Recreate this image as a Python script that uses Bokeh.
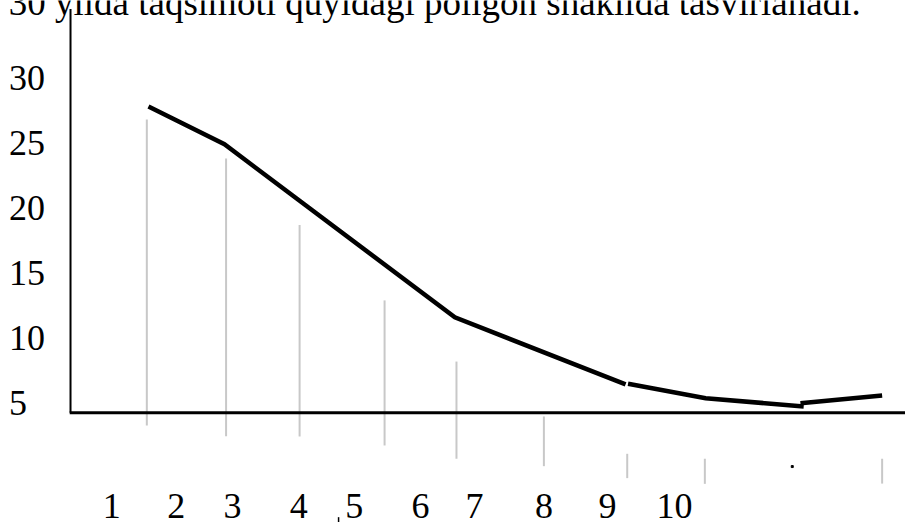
from bokeh.plotting import figure
from bokeh.models import Range1d
from bokeh.core.properties import value
from bokeh.embed import file_html
from bokeh.resources import INLINE

NaN = float("nan")

# Frequency polygon (drawn in three pieces as in the scan)
poly_x = [1.02, 1.95, 4.77, 6.86, NaN, 6.89, 7.84, 9.04, NaN, 9.00, 10.00]
poly_y = [27.9, 25.0, 11.7, 6.54, NaN, 6.59, 5.48, 4.85, NaN, 5.10, 5.69]

# Light grey vertical strokes
bar_x = [1.00, 1.97, 2.87, 3.91, 4.79, 5.86, 6.88, 7.83, 10.00]
bar_top = [26.9, 23.9, 18.8, 13.0, 8.3, 4.08, 1.21, 0.83, 0.83]
bar_bottom = [3.39, 2.56, 2.54, 1.85, 0.83, 0.26, -0.66, -1.10, -1.08]

# stray dot
dot_x = [8.90]
dot_y = [0.23]

# y tick labels
y_ticks = [5, 10, 15, 20, 25, 30]

# x labels and their positions
x_labels = ["1", "2", "3", "4", "5", "6", "7", "8", "9", "10"]
x_label_pos = [0.57, 1.36, 2.05, 2.86, 3.54, 4.35, 5.01, 5.86, 6.64, 7.46]

title_text = "30 yilda taqsimoti quyidagi poligon shaklida tasvirlanadi."

AXIS_Y = 4.36
AXIS_X = 0.066
TEXT_SHIFT = 1.02  # compensates the renderer's baseline offset

p = figure(width=905, height=522, output_backend="svg", toolbar_location=None,
           x_range=Range1d(-0.791, 10.286), y_range=Range1d(-4.07, 36.05),
           min_border=0, outline_line_color=None)
p.axis.visible = False
p.grid.visible = False
p.background_fill_color = "white"
p.border_fill_color = "white"

FONT = value("Liberation Serif")

# grey strokes
p.segment(x0=bar_x, y0=bar_bottom, x1=bar_x, y1=bar_top, line_color="#c8c8c8", line_width=2)
p.scatter(x=dot_x, y=dot_y, size=2, color="black", marker="square")

# axes
p.segment(x0=[AXIS_X], y0=[AXIS_Y], x1=[AXIS_X], y1=[35.4], line_color="black", line_width=2)
p.segment(x0=[AXIS_X - 0.01], y0=[AXIS_Y], x1=[10.3], y1=[AXIS_Y], line_color="black", line_width=3)

# polygon
p.line(x=poly_x, y=poly_y, line_color="black", line_width=4.5, line_join="miter")

# small stray tick near "5"
p.segment(x0=[3.347], y0=[-3.66], x1=[3.347], y1=[-4.1], line_color="black", line_width=1.5)

# y labels
p.text(x=[-0.687] * len(y_ticks), y=[t - 0.92 + TEXT_SHIFT for t in y_ticks],
       text=[str(t) for t in y_ticks],
       text_font=FONT, text_font_size="36px", text_align="left", text_baseline="alphabetic",
       text_color="black")

# x labels
p.text(x=x_label_pos, y=[-3.79 + TEXT_SHIFT] * len(x_labels), text=x_labels,
       text_font=FONT, text_font_size="36px", text_align="center", text_baseline="alphabetic",
       text_color="black")

# clipped heading line
p.text(x=[-0.69], y=[34.85 + TEXT_SHIFT], text=[title_text], text_font=FONT, text_font_size="37px",
       text_align="left", text_baseline="alphabetic", text_color="black")

open("out.html", "w").write(file_html(p, INLINE))
